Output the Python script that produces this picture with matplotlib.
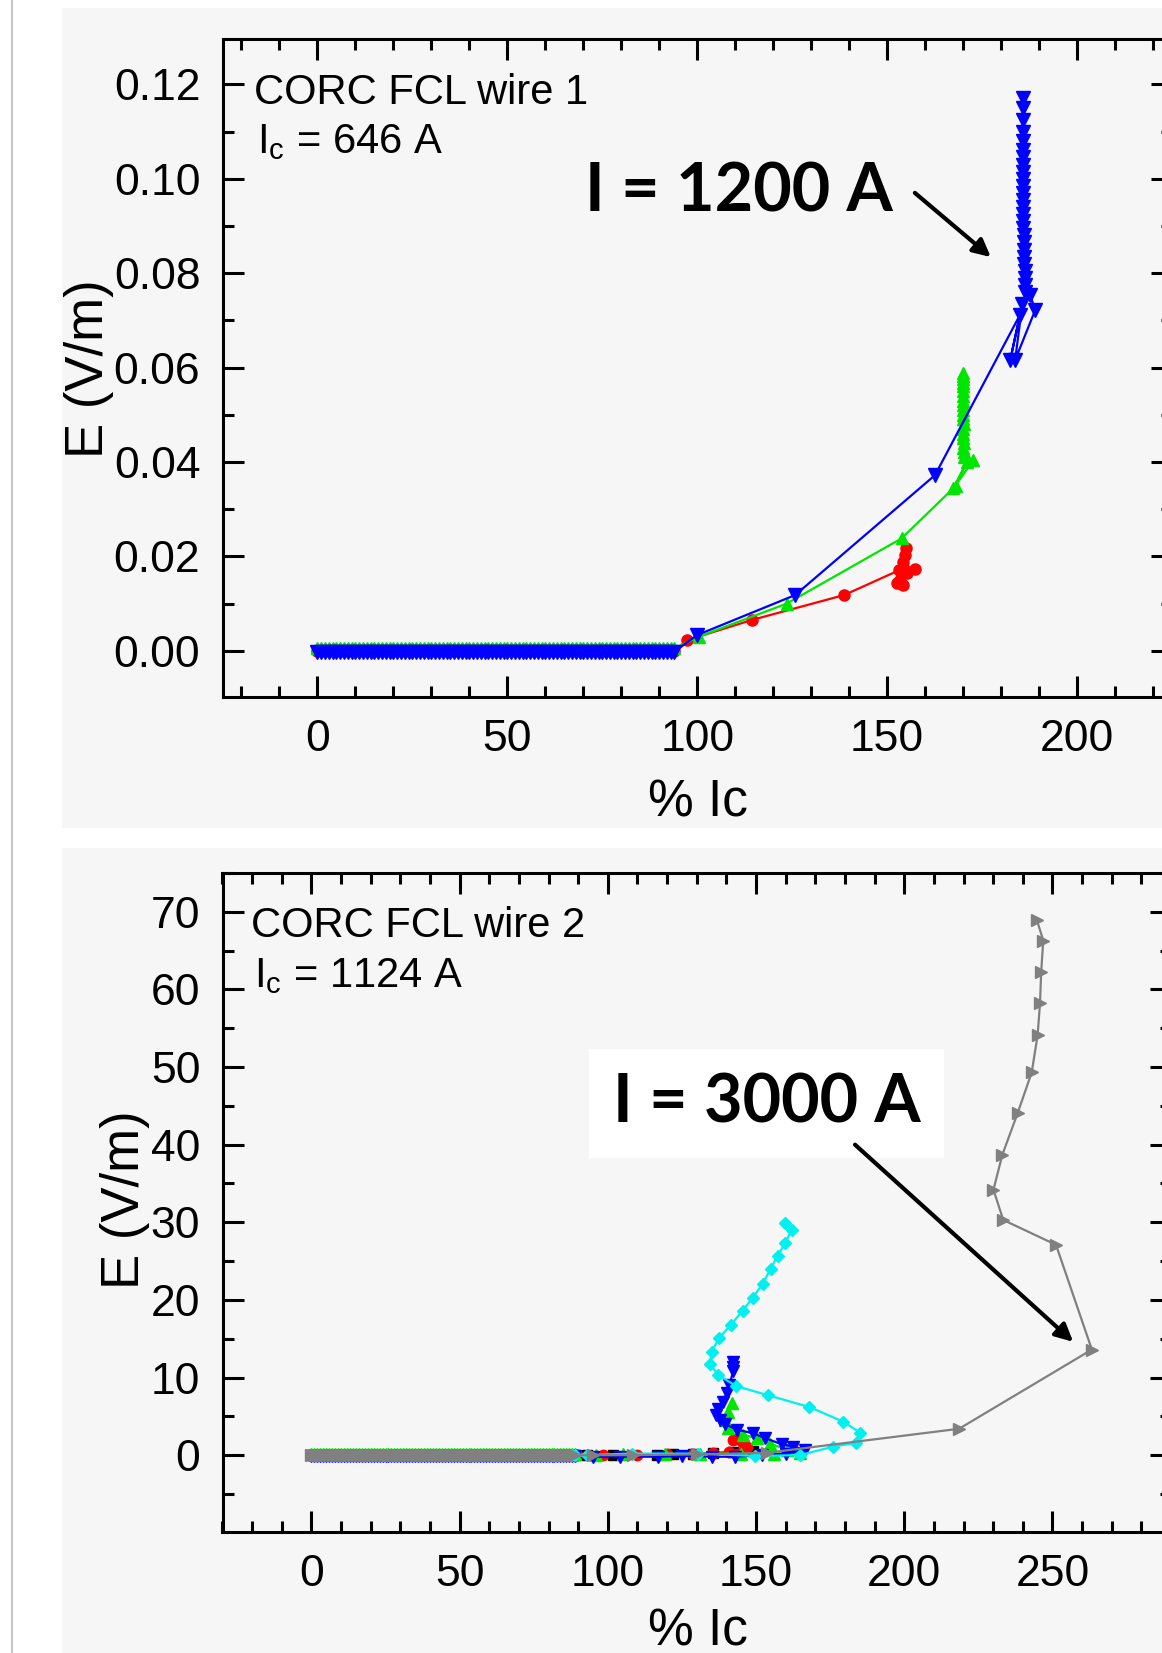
import matplotlib
matplotlib.use('Agg')
import matplotlib.pyplot as plt
from matplotlib.patches import Rectangle
from matplotlib.lines import Line2D
from matplotlib.ticker import MultipleLocator, FormatStrFormatter

plt.rcParams['font.family'] = ['Liberation Sans', 'DejaVu Sans']
plt.rcParams['mathtext.fontset'] = 'custom'
plt.rcParams['mathtext.rm'] = 'Liberation Sans'

# ---- wire 1 (Ic = 646 A), E in V/m vs % Ic ----
# below Ic the points are packed so tightly they form a band
flat1_ic = [0, 1, 2, 3, 4, 5, 6, 7, 8, 9, 10, 11, 12, 13, 14, 15, 16, 17, 18, 19,
            20, 21, 22, 23, 24, 25, 26, 27, 28, 29, 30, 31, 32, 33, 34, 35, 36, 37, 38, 39,
            40, 41, 42, 43, 44, 45, 46, 47, 48, 49, 50, 51, 52, 53, 54, 55, 56, 57, 58, 59,
            60, 61, 62, 63, 64, 65, 66, 67, 68, 69, 70, 71, 72, 73, 74, 75, 76, 77, 78, 79,
            80, 81, 82, 83, 84, 85, 86, 87, 88, 89, 90, 91, 92, 93, 94]

red1_flat_e = 0.0
red1_ic = [97.2, 114.3, 138.7, 153.0, 152.5, 154.2, 153.4, 155.1, 157.3, 154.5, 154.2, 154.6, 155.0]
red1_e = [0.0022, 0.0065, 0.0118, 0.0170, 0.0143, 0.0139, 0.0150, 0.0164, 0.0174, 0.0174, 0.0188, 0.0203, 0.0217]

green1_flat_e = 0.0005
green1_ic = [100.5, 123.6, 153.8, 167.4, 171.0, 168.0, 172.7, 170.2,
             170.2, 170.1, 170.2, 170.1, 170.0, 170.1, 170.2, 170.1, 170.1, 170.0,
             170.1, 170.1, 170.0, 170.1, 170.1, 170.0, 170.1, 170.1, 170.1]
green1_e = [0.0030, 0.0100, 0.0238, 0.0344, 0.0400, 0.0350, 0.0404, 0.0410,
            0.0420, 0.0430, 0.0440, 0.0450, 0.0460, 0.0470, 0.0480, 0.0490, 0.0500, 0.0510,
            0.0520, 0.0530, 0.0540, 0.0550, 0.0560, 0.0568, 0.0576, 0.0583, 0.0589]

blue1_flat_e = -0.0002
blue1_ic = [99.9, 125.8, 162.6, 185.0, 182.4, 185.6, 183.7, 189.0, 187.6, 186.3,
            186.3, 186.2, 186.2, 186.1, 186.1, 186.0, 186.0, 186.0, 185.9, 185.9,
            185.9, 185.9, 185.8, 185.8, 185.8, 185.8, 185.8, 185.7, 185.7, 185.7,
            185.7, 185.7, 185.7, 185.7, 185.7]
blue1_e = [0.0033, 0.0118, 0.0372, 0.0712, 0.0616, 0.0735, 0.0616, 0.0722, 0.0754, 0.0760,
           0.0775, 0.0790, 0.0805, 0.0820, 0.0835, 0.0850, 0.0865, 0.0880, 0.0895, 0.0910,
           0.0925, 0.0940, 0.0955, 0.0970, 0.0985, 0.1000, 0.1015, 0.1030, 0.1045, 0.1060,
           0.1080, 0.1100, 0.1125, 0.1150, 0.1171]

# ---- wire 2 (Ic = 1124 A) ----
flat2_ic = [0, 1, 2, 3, 4, 5, 6, 7, 8, 9, 10, 11, 12, 13, 14, 15, 16, 17, 18, 19,
            20, 21, 22, 23, 24, 25, 26, 27, 28, 29, 30, 31, 32, 33, 34, 35, 36, 37, 38, 39,
            40, 41, 42, 43, 44, 45, 46, 47, 48, 49, 50, 51, 52, 53, 54, 55, 56, 57, 58, 59,
            60, 61, 62, 63, 64, 65, 66, 67, 68, 69, 70, 71, 72, 73, 74, 75, 76, 77, 78, 79,
            80, 81, 82, 83, 84, 85, 86, 87, 88, 89]

black2_ic = [93.0, 101.9, 116.5, 122.0, 128.8, 135.6, 142.3, 149.0]
black2_e = [0.0, 0.0, 0.0, 0.1, 0.2, 0.3, 0.4, 0.5]

red2_ic = [89.5, 98.5, 110.0, 119.9, 128.8, 135.6, 141.0, 146.9, 145.7, 142.3, 143.5]
red2_e = [0.0, 0.0, 0.0, 0.1, 0.2, 0.3, 0.4, 1.0, 1.6, 1.9, 2.1]

green2_ic = [96.0, 105.2, 119.3, 131.0, 145.0, 156.0, 164.8, 160.4, 154.7, 150.2, 145.7,
             140.6, 139.5, 140.6, 141.8]
green2_e = [0.0, 0.1, 0.1, 0.2, 0.2, 0.2, 0.3, 0.7, 1.5, 2.2, 2.6, 3.5, 4.5, 5.6, 6.7]

blue2_ic = [95.1, 104.0, 117.0, 124.9, 135.0, 143.0, 152.0, 160.0, 166.5, 162.6, 158.7,
            153.0, 149.1, 143.5, 139.5, 137.9, 136.5, 137.3, 138.8, 140.1, 141.0, 142.3,
            142.3, 142.3]
blue2_e = [-0.2, -0.2, -0.2, -0.1, -0.2, -0.2, 0.0, 0.2, 0.7, 1.1, 1.4, 2.2, 2.8, 3.3, 4.0,
           4.5, 5.2, 6.0, 6.9, 8.0, 9.0, 10.8, 11.4, 12.0]

cyan2_ic = [92.9, 108.1, 130.5, 149.7, 164.8, 176.1, 183.7, 185.1, 179.5, 168.0, 154.2,
            143.3, 137.3, 134.5, 135.0, 137.6, 141.5, 145.5, 148.9, 152.3, 154.9, 157.3,
            159.8, 162.0, 159.8]
cyan2_e = [0.0, 0.2, 0.2, -0.1, 0.0, 1.1, 1.6, 2.9, 4.3, 6.2, 7.7, 8.9, 10.3, 11.7, 13.3,
           15.1, 16.8, 18.6, 20.3, 22.1, 24.0, 25.7, 27.3, 29.0, 29.9]

gray2_ic = [95.0, 108.6, 130.0, 153.6, 218.5, 263.3, 251.2, 233.4, 230.1, 233.1, 238.3,
            243.0, 245.0, 245.8, 246.2, 246.9, 244.7]
gray2_e = [0.0, 0.0, 0.1, 0.3, 3.4, 13.6, 27.1, 30.3, 34.2, 38.7, 44.1, 49.3, 54.1, 58.2,
           62.2, 66.3, 69.0]

BG = '#f6f6f6'

fig = plt.figure(figsize=(11.62, 16.53), dpi=100, facecolor='white')
W, H = 1162.0, 1653.0

# panel backgrounds and thin page line on the left (behind the axes)
fig.patches.append(Rectangle((62 / W, 1 - 828 / H), 1.0, (828 - 8) / H,
                             transform=fig.transFigure, facecolor=BG, edgecolor='none', zorder=-5))
fig.patches.append(Rectangle((62 / W, 0), 1.0, 1 - 848 / H,
                             transform=fig.transFigure, facecolor=BG, edgecolor='none', zorder=-5))
fig.lines.append(Line2D([12 / W, 12 / W], [0, 1], transform=fig.transFigure,
                        color='#c8c8c8', lw=1.5, zorder=-5))


def style_axes(ax):
    ax.set_facecolor('none')
    for s in ax.spines.values():
        s.set_linewidth(2.2)
    ax.tick_params(which='both', direction='in', top=True, right=True, width=2.2,
                   labelsize=32, colors='black')
    ax.tick_params(which='major', length=15, pad=16)
    ax.tick_params(which='minor', length=8)


def series(ax, x, y, color, marker, ms, lw=1.6):
    ax.plot(x, y, color=color, marker=marker, ms=ms, mec=color, mfc=color, lw=lw)


# top panel
ax1 = fig.add_axes([222.5 / W, 1 - 697 / H, 949.5 / W, 658 / H])
style_axes(ax1)
series(ax1, flat1_ic + red1_ic, [red1_flat_e] * len(flat1_ic) + red1_e, '#ff0000', 'o', 8)
series(ax1, flat1_ic + green1_ic, [green1_flat_e] * len(flat1_ic) + green1_e, '#00e600', '^', 9)
series(ax1, flat1_ic + blue1_ic, [blue1_flat_e] * len(flat1_ic) + blue1_e, '#0000ff', 'v', 10)
ax1.set_xlim(-25, 225)
ax1.set_ylim(-0.0098, 0.1296)
ax1.xaxis.set_major_locator(MultipleLocator(50))
ax1.xaxis.set_minor_locator(MultipleLocator(10))
ax1.yaxis.set_major_locator(MultipleLocator(0.02))
ax1.yaxis.set_minor_locator(MultipleLocator(0.01))
ax1.yaxis.set_major_formatter(FormatStrFormatter('%.2f'))
ax1.set_ylabel('E (V/m)', fontsize=38, va='center')
ax1.yaxis.set_label_coords(-0.141, 0.4985)
ax1.set_xlabel('% Ic', fontsize=37, va='center')
ax1.xaxis.set_label_coords(0.501, -0.161)
ax1.text(0.033, 0.918, 'CORC FCL wire 1', transform=ax1.transAxes, fontsize=30, va='center')
ax1.text(0.036, 0.8435, r'I$_{\rm c}$ = 646 A', transform=ax1.transAxes, fontsize=30, va='center')
ax1.text(111.0, 0.0970, 'I = 1200 A', fontsize=48, fontweight='bold', family=['Lato', 'DejaVu Sans'],
         ha='center', va='center')
ax1.annotate('', xy=(177.3, 0.0834), xytext=(157.3, 0.0970),
             arrowprops=dict(arrowstyle='-|>,head_length=0.7,head_width=0.35', lw=3,
                             color='black', mutation_scale=15, shrinkA=0, shrinkB=0))

# bottom panel
ax2 = fig.add_axes([222.5 / W, 1 - 1532 / H, 948.5 / W, 659 / H])
style_axes(ax2)
ax2.plot(flat2_ic + black2_ic, [0.0] * len(flat2_ic) + black2_e, color='black', marker='s',
         ms=7, lw=1.6, ls='--')
series(ax2, flat2_ic + red2_ic, [0.0] * len(flat2_ic) + red2_e, '#ff0000', 'o', 7.5)
series(ax2, flat2_ic + green2_ic, [0.15] * len(flat2_ic) + green2_e, '#00e600', '^', 8.5)
series(ax2, flat2_ic + blue2_ic, [-0.15] * len(flat2_ic) + blue2_e, '#0000ff', 'v', 8.5)
series(ax2, flat2_ic + cyan2_ic, [0.0] * len(flat2_ic) + cyan2_e, '#00f0f0', 'D', 6.5)
series(ax2, flat2_ic + gray2_ic, [0.0] * len(flat2_ic) + gray2_e, '#808080', '>', 8.5)
ax2.set_xlim(-30, 290)
ax2.set_ylim(-9.9, 75)
ax2.xaxis.set_major_locator(MultipleLocator(50))
ax2.xaxis.set_minor_locator(MultipleLocator(10))
ax2.yaxis.set_major_locator(MultipleLocator(10))
ax2.yaxis.set_minor_locator(MultipleLocator(5))
ax2.set_ylabel('E (V/m)', fontsize=38, va='center')
ax2.yaxis.set_label_coords(-0.103, 0.504)
ax2.set_xlabel('% Ic', fontsize=37, va='center')
ax2.xaxis.set_label_coords(0.501, -0.152)
ax2.text(0.030, 0.9196, 'CORC FCL wire 2', transform=ax2.transAxes, fontsize=30, va='center')
ax2.text(0.033, 0.8437, r'I$_{\rm c}$ = 1124 A', transform=ax2.transAxes, fontsize=30, va='center')
ax2.text(153.5, 45.3, 'I = 3000 A', fontsize=48, fontweight='bold', family=['Lato', 'DejaVu Sans'],
         ha='center', va='center',
         bbox=dict(boxstyle='square,pad=0.35', facecolor='white', edgecolor='none'))
ax2.annotate('', xy=(257.0, 14.6), xytext=(183.4, 40.0),
             arrowprops=dict(arrowstyle='-|>,head_length=0.7,head_width=0.35', lw=3,
                             color='black', mutation_scale=15, shrinkA=0, shrinkB=0))

fig.savefig('out.png', dpi=100, facecolor='white')
